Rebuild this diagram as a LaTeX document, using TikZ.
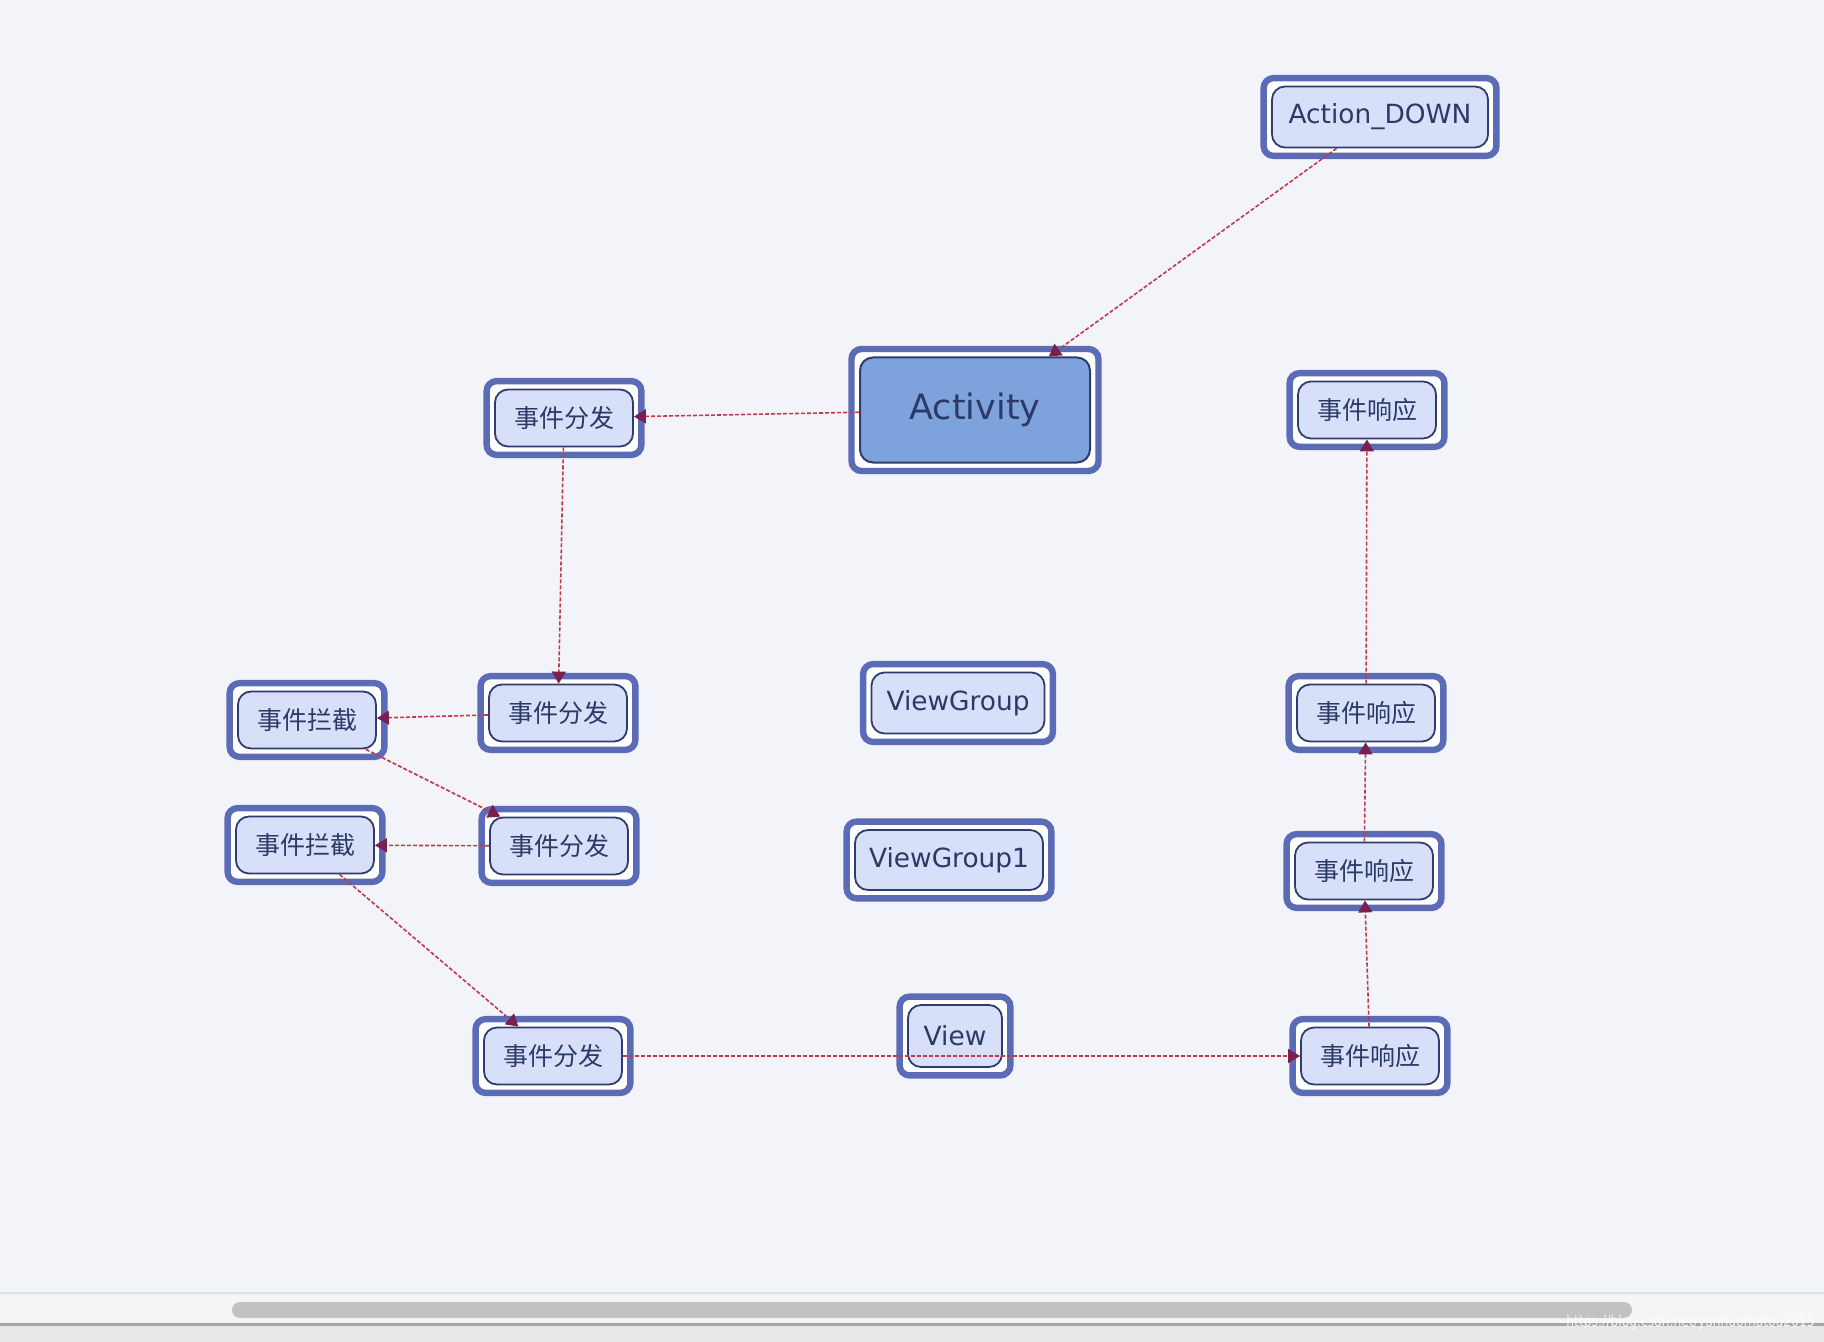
\documentclass[tikz,border=0pt]{standalone}
\usepackage{fontspec}
\setmainfont{DejaVu Sans}
\newfontfamily\cjk{Noto Sans CJK SC}
\usetikzlibrary{arrows.meta,calc}
\definecolor{bgc}{HTML}{F3F4FA}
\definecolor{outerc}{HTML}{5B6BB5}
\definecolor{innerb}{HTML}{2E3D6E}
\definecolor{lightfill}{HTML}{D8DFF8}
\definecolor{actfill}{HTML}{7EA2DC}
\definecolor{textc}{HTML}{2B3A66}
\definecolor{edgec}{HTML}{C23A4A}
\definecolor{arrowc}{HTML}{7A2050}
\pgfdeclarelayer{bglayer}
\pgfdeclarelayer{framelayer}
\pgfsetlayers{bglayer,framelayer,main}
\tikzset{
  box/.style={draw=innerb, line width=0.9pt, fill=lightfill, text=textc,
    rounded corners=6.5pt, inner sep=0pt, align=center},
  cnbox/.style={box, minimum width=69pt, minimum height=28.5pt,
    font=\cjk\fontsize{12.5pt}{15pt}\selectfont},
  enbox/.style={box, font=\fontsize{13.2pt}{16pt}\selectfont},
  actbox/.style={box, fill=actfill, line width=1pt,
    font=\fontsize{17.5pt}{21pt}\selectfont},
  frame/.style={draw=outerc, fill=white, line width=3.2pt, rounded corners=5pt},
  link/.style={draw=edgec, line width=0.8pt, dash pattern=on 2pt off 1pt,
    -{Triangle[length=6pt, width=7pt, color=arrowc]}}
}
\begin{document}
\begin{tikzpicture}[x=0.5pt, y=-0.5pt]
\begin{pgfonlayer}{bglayer}
  \fill[bgc] (0,0) rectangle (1824,1342);
  \fill[black!4] (0,1293) rectangle (1824,1324);
  \fill[black!12] (0,1292) rectangle (1824,1294);
  \fill[black!9] (0,1326) rectangle (1824,1342);
  \fill[black!35] (0,1323) rectangle (1824,1326);
  \fill[black!24, rounded corners=4pt] (232,1302) rectangle (1632,1318);
\end{pgfonlayer}
\useasboundingbox (0,0) rectangle (1824,1342);

\node[enbox, minimum width=108pt, minimum height=30.5pt] (ad) at (1380,117) {Action\_DOWN};
\node[actbox, minimum width=115pt, minimum height=52.5pt] (act) at (975,410) {Activity};
\node[cnbox] (d1) at (564,418) {事件分发};
\node[cnbox] (d2) at (558,713) {事件分发};
\node[cnbox] (j1) at (307,720) {事件拦截};
\node[cnbox] (j2) at (305,845) {事件拦截};
\node[cnbox] (d3) at (559,846) {事件分发};
\node[cnbox] (d4) at (553,1056) {事件分发};
\node[enbox, minimum width=47pt, minimum height=31pt] (view) at (955,1036) {View};
\node[enbox, minimum width=86.5pt, minimum height=30.5pt] (vg) at (958,703) {ViewGroup};
\node[enbox, minimum width=94pt, minimum height=30pt] (vg1) at (949,860) {ViewGroup1};
\node[cnbox] (r1) at (1367,410) {事件响应};
\node[cnbox] (r2) at (1366,713) {事件响应};
\node[cnbox] (r3) at (1364,871) {事件响应};
\node[cnbox] (r4) at (1370,1056) {事件响应};

\begin{pgfonlayer}{framelayer}
  \foreach \n in {ad,act,d1,d2,j1,j2,d3,d4,view,vg,vg1,r1,r2,r3,r4}
    \draw[frame] ($(\n.south west)+(-7.5,7.5)$) rectangle ($(\n.north east)+(7.5,-7.5)$);
\end{pgfonlayer}

\draw[link] (ad) -- (act);
\draw[link] (act) -- (d1);
\draw[link] (d1) -- (d2);
\draw[link] (d2) -- (j1);
\draw[link] (j1) -- (d3);
\draw[link] (d3) -- (j2);
\draw[link] (j2) -- (d4);
\draw[link] (d4) -- (r4);
\draw[link] (r4) -- (r3);
\draw[link] (r3) -- (r2);
\draw[link] (r2) -- (r1);

\node[text=white, opacity=0.85, font=\fontsize{7.5pt}{9pt}\selectfont, xscale=0.82, anchor=east, inner sep=0pt] (wm) at (1815,1322) {https://blog.csdn.net/yanhuomatou2015};
\end{tikzpicture}
\end{document}
